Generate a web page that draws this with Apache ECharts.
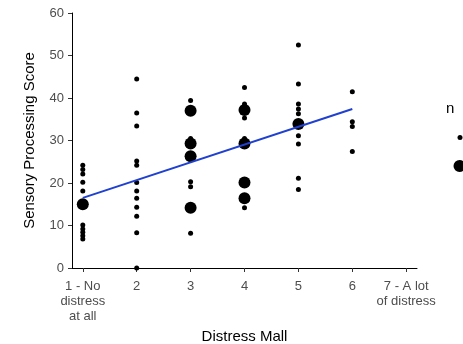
<!DOCTYPE html>
<html>
<head>
<meta charset="utf-8">
<script src="https://cdn.jsdelivr.net/npm/echarts@6/dist/echarts.min.js"></script>
<style>
html,body{margin:0;padding:0;background:#fff;}
#chart{width:463px;height:344px;}
</style>
</head>
<body>
<div id="chart"></div>
<script>
// Tick labels / categories of the x axis (Distress Mall rating 1..7)
const xTickValues = [1, 2, 3, 4, 5, 6, 7];
const xTickLabels = ['1 - No\ndistress\nat all', '2', '3', '4', '5', '6', '7 - A lot\nof distress'];

// Points with count n = 1 (small dots)
const smallX = [
  1, 1, 1, 1, 1, 1, 1, 1, 1, 1,
  2, 2, 2, 2, 2, 2, 2, 2, 2, 2, 2, 2,
  3, 3, 3, 3, 3,
  4, 4, 4, 4, 4,
  5, 5, 5, 5, 5, 5, 5, 5, 5,
  6, 6, 6, 6
];
const smallY = [
  24.2, 23.2, 22.1, 20.2, 18.1, 10.1, 9.2, 8.4, 7.6, 6.8,
  44.5, 36.5, 33.4, 25.2, 24.2, 20.1, 18.1, 16.4, 14.3, 12.2, 8.3, 0,
  39.4, 30.5, 20.3, 19.1, 8.2,
  42.5, 38.6, 35.3, 30.5, 14.2,
  52.5, 43.3, 38.6, 37.4, 36.3, 31.1, 29.2, 21.1, 18.5,
  41.5, 34.4, 33.3, 27.4
];

// Points with count n = 2 (large dots)
const bigX = [1, 3, 3, 3, 3, 4, 4, 4, 4, 5];
const bigY = [15, 37, 29.3, 26.3, 14.2, 37.2, 29.3, 20.1, 16.4, 33.9];

// Linear fit line (end points)
const fitX = [1, 6];
const fitY = [16.5, 37.4];

// Legend levels for n
const countLevels = ['1', '2'];

const FONT = 'Liberation Sans, Arial, sans-serif';
const zip = (xs, ys) => xs.map((x, i) => [x, ys[i]]);

const chart = echarts.init(document.getElementById('chart'), null, {renderer: 'canvas'});
chart.setOption({
  animation: false,
  backgroundColor: '#ffffff',
  textStyle: {fontFamily: FONT},
  grid: {left: 72, right: 46, top: 13, bottom: 76, outerBoundsMode: 'none', containLabel: false},
  title: {
    text: 'n', left: 446, top: 101, padding: 0,
    textStyle: {fontFamily: FONT, fontSize: 15, fontWeight: 'normal', color: '#000000'}
  },
  legend: [
    {
      data: [countLevels[0]], left: 457.5, top: 131.5, orient: 'vertical', padding: 0,
      itemWidth: 5, itemHeight: 5, icon: 'circle', selectedMode: false,
      textStyle: {fontFamily: FONT, fontSize: 12, color: '#000000'}
    },
    {
      data: [countLevels[1]], left: 453.5, top: 160, orient: 'vertical', padding: 0,
      itemWidth: 12, itemHeight: 12, icon: 'circle', selectedMode: false,
      textStyle: {fontFamily: FONT, fontSize: 12, color: '#000000'}
    }
  ],
  xAxis: {
    type: 'value', min: 0.8, max: 7.2,
    name: 'Distress Mall', nameLocation: 'middle', nameGap: 57,
    nameTextStyle: {fontFamily: FONT, fontSize: 15, color: '#000000'},
    axisLine: {show: true, onZero: false, lineStyle: {color: '#000000', width: 1}},
    axisTick: {show: true, customValues: xTickValues, length: 4, lineStyle: {color: '#333333', width: 1}},
    axisLabel: {
      customValues: xTickValues,
      formatter: v => xTickLabels[xTickValues.indexOf(v)],
      margin: 11, fontFamily: FONT, fontSize: 13, lineHeight: 15, color: '#4d4d4d'
    },
    splitLine: {show: false}
  },
  yAxis: {
    type: 'value', min: 0, max: 60, interval: 10,
    name: 'Sensory Processing Score', nameLocation: 'middle', nameGap: 35, nameRotate: 90,
    nameTextStyle: {fontFamily: FONT, fontSize: 15, color: '#000000'},
    axisLine: {show: true, onZero: false, lineStyle: {color: '#000000', width: 1}},
    axisTick: {show: true, length: 4, lineStyle: {color: '#333333', width: 1}},
    axisLabel: {margin: 8, fontFamily: FONT, fontSize: 13, color: '#4d4d4d'},
    splitLine: {show: false}
  },
  series: [
    {
      name: countLevels[0], type: 'scatter', data: zip(smallX, smallY),
      symbol: 'circle', symbolSize: 5, clip: false,
      itemStyle: {color: '#000000', opacity: 1}
    },
    {
      name: countLevels[1], type: 'scatter', data: zip(bigX, bigY),
      symbol: 'circle', symbolSize: 12, clip: false,
      itemStyle: {color: '#000000', opacity: 1}
    },
    {
      name: 'fit', type: 'line', data: zip(fitX, fitY),
      symbol: 'none', silent: true, z: 5,
      lineStyle: {color: '#2040d0', width: 2}
    }
  ]
});
</script>
</body>
</html>
